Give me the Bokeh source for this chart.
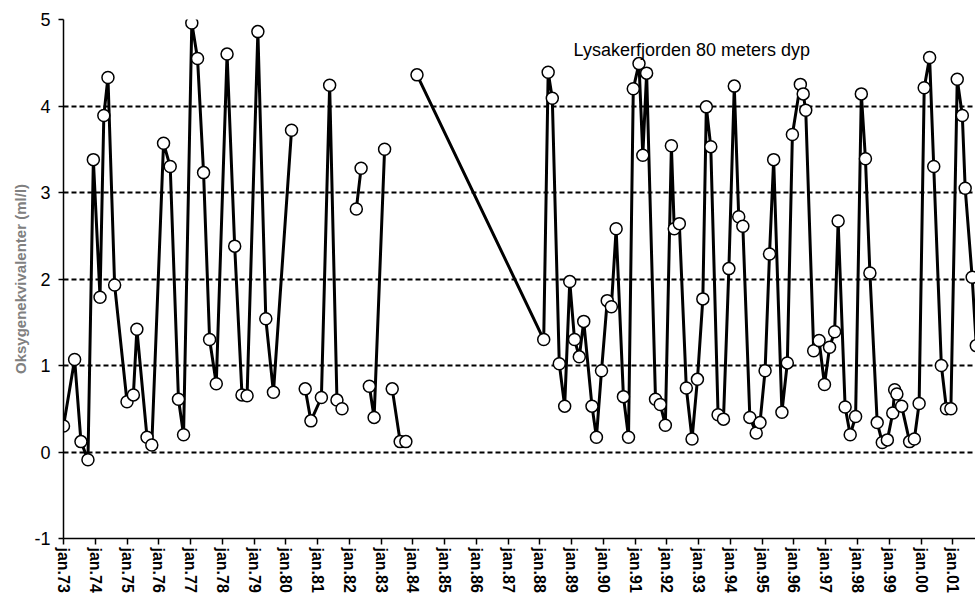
import math
from bokeh.plotting import figure
from bokeh.models import FixedTicker, Label, Range1d, ColumnDataSource
from bokeh.embed import file_html
from bokeh.resources import INLINE

nan = float("nan")

# Sampling dates (decimal years) and oxygen equivalents (ml/l); NaN marks a break in the series
dates = [
    1973.00, 1973.35, 1973.55, 1973.77, 1973.94, 1974.15, 1974.27, 1974.40, 1974.61, 1975.00,
    1975.20, 1975.31, 1975.63, 1975.78, 1976.15, 1976.36, 1976.62, 1976.78, 1977.04, 1977.22,
    1977.41, 1977.60, 1977.81, 1978.15, 1978.39, 1978.62, 1978.78, 1979.12, 1979.37, 1979.61,
    1980.18,
    1980.40,
    1980.61, 1980.79, 1981.12, 1981.38, 1981.61, 1981.77,
    1982.00,
    1982.22, 1982.37,
    1982.50,
    1982.63, 1982.78, 1983.11,
    1983.23,
    1983.35, 1983.60, 1983.78,
    1983.95,
    1984.13, 1988.12, 1988.26, 1988.39, 1988.61, 1988.78, 1988.94, 1989.09, 1989.24, 1989.38,
    1989.64, 1989.78, 1989.94, 1990.12, 1990.25, 1990.40, 1990.63, 1990.79, 1990.94, 1991.12,
    1991.24, 1991.36, 1991.64, 1991.79, 1991.95, 1992.14, 1992.23, 1992.39, 1992.61, 1992.79,
    1992.96, 1993.13, 1993.24, 1993.38, 1993.61, 1993.78, 1993.95, 1994.12, 1994.26, 1994.39,
    1994.61, 1994.81, 1994.93, 1995.09, 1995.23, 1995.36, 1995.62, 1995.79, 1995.95, 1996.20,
    1996.29, 1996.37, 1996.62, 1996.79, 1996.96, 1997.12, 1997.28, 1997.39, 1997.61, 1997.77,
    1997.94, 1998.12, 1998.25, 1998.39, 1998.62, 1998.78, 1998.94, 1999.11, 1999.17, 1999.24,
    1999.39, 1999.64, 1999.79, 1999.94, 2000.10, 2000.27, 2000.40, 2000.64, 2000.80, 2000.94,
    2001.14, 2001.30, 2001.39, 2001.61, 2001.74,
]
oxygen = [
    0.30, 1.07, 0.12, -0.09, 3.38, 1.79, 3.89, 4.33, 1.93, 0.58,
    0.66, 1.42, 0.17, 0.08, 3.57, 3.30, 0.61, 0.20, 4.96, 4.55,
    3.23, 1.30, 0.79, 4.60, 2.38, 0.66, 0.65, 4.86, 1.54, 0.69,
    3.72,
    nan,
    0.73, 0.36, 0.63, 4.24, 0.60, 0.50,
    nan,
    2.81, 3.28,
    nan,
    0.76, 0.40, 3.50,
    nan,
    0.73, 0.12, 0.12,
    nan,
    4.36, 1.30, 4.39, 4.09, 1.02, 0.53, 1.97, 1.30, 1.10, 1.51,
    0.53, 0.17, 0.94, 1.75, 1.68, 2.58, 0.64, 0.17, 4.20, 4.49,
    3.43, 4.38, 0.61, 0.55, 0.31, 3.54, 2.58, 2.64, 0.74, 0.15,
    0.84, 1.77, 3.99, 3.53, 0.43, 0.38, 2.12, 4.23, 2.72, 2.61,
    0.40, 0.22, 0.34, 0.94, 2.29, 3.38, 0.46, 1.03, 3.67, 4.25,
    4.14, 3.95, 1.17, 1.29, 0.78, 1.21, 1.39, 2.67, 0.52, 0.20,
    0.41, 4.14, 3.39, 2.07, 0.34, 0.11, 0.14, 0.45, 0.72, 0.67,
    0.53, 0.12, 0.15, 0.56, 4.21, 4.56, 3.30, 1.00, 0.50, 0.50,
    4.31, 3.89, 3.05, 2.02, 1.23,
]

tick_years = list(range(1973, 2002))
tick_labels = ["jan.%02d" % (y % 100) for y in tick_years]
y_ticks = [-1, 0, 1, 2, 3, 4, 5]
y_tick_labels = ["-1", "0", "1", "2", "3", "4", "5"]
grid_levels = [0, 1, 2, 3, 4, 5]
title_text = "Lysakerfjorden 80 meters dyp"
y_label = "Oksygenekvivalenter (ml/l)"

FONT = "Liberation Sans"

p = figure(width=975, height=595, output_backend="svg", toolbar_location=None,
           x_range=Range1d(1973, 2001.715), y_range=Range1d(-1, 5),
           min_border_left=63, min_border_right=0, min_border_top=19,
           min_border_bottom=55)
p.outline_line_color = None
p.background_fill_color = "white"
p.border_fill_color = "white"

p.xgrid.visible = False
p.ygrid.ticker = FixedTicker(ticks=grid_levels)
p.ygrid.grid_line_color = "black"
p.ygrid.grid_line_width = 2
p.ygrid.grid_line_dash = "5 3"

xa = p.xaxis[0]
xa.ticker = FixedTicker(ticks=tick_years)
xa.major_label_overrides = {y: lab for y, lab in zip(tick_years, tick_labels)}
xa.major_label_orientation = -math.pi / 2
xa.major_label_text_font = FONT
xa.major_label_text_font_style = "bold"
xa.major_label_text_font_size = "16px"
xa.major_label_text_color = "black"
xa.major_tick_out = 6
xa.major_tick_in = 0
xa.minor_tick_line_color = None
xa.axis_line_width = 1.5
xa.major_tick_line_width = 1.5
xa.major_label_standoff = 3

ya = p.yaxis[0]
ya.ticker = FixedTicker(ticks=y_ticks)
ya.major_label_overrides = {t: lab for t, lab in zip(y_ticks, y_tick_labels)}
ya.major_label_text_font = FONT
ya.major_label_text_font_size = "18px"
ya.major_label_text_color = "black"
ya.major_tick_out = 5
ya.major_tick_in = 0
ya.minor_tick_line_color = None
ya.axis_line_width = 1.5
ya.major_tick_line_width = 1.5
ya.major_label_standoff = 8
ya.axis_label = y_label
ya.axis_label_text_font = FONT
ya.axis_label_text_font_style = "bold"
ya.axis_label_text_font_size = "15px"
ya.axis_label_text_color = "#808080"
ya.axis_label_standoff = 2

src = ColumnDataSource(data=dict(x=dates, y=oxygen))
p.line("x", "y", source=src, line_color="black", line_width=3)
p.scatter("x", "y", source=src, size=12, fill_color="white",
          line_color="black", line_width=1.5)

p.add_layout(Label(x=1989.06, y=4.65, text=title_text, text_font=FONT,
                   text_font_size="18px", text_color="black",
                   text_baseline="alphabetic", text_align="left"))

open("out.html", "w").write(file_html(p, INLINE))
